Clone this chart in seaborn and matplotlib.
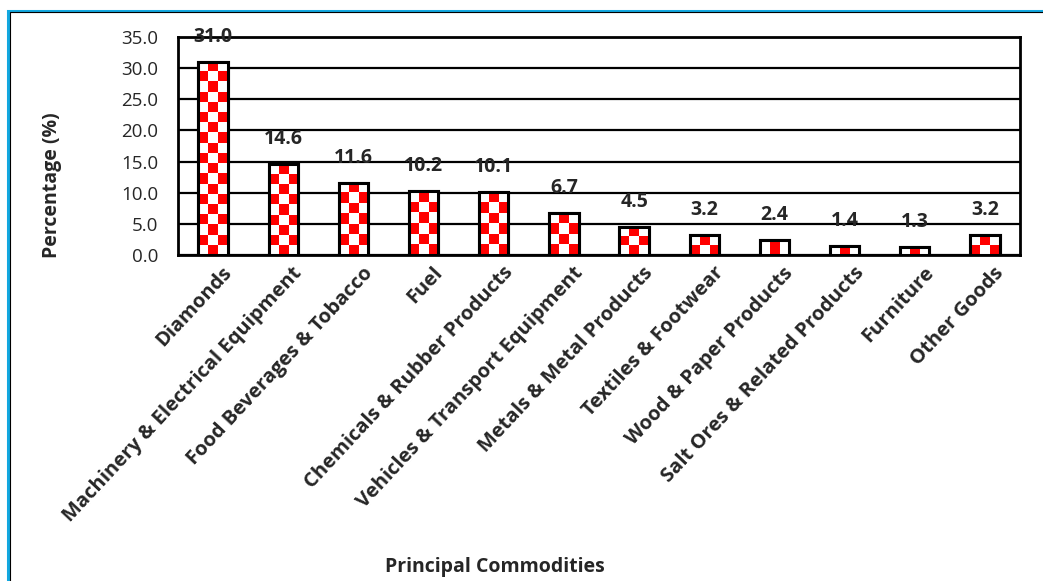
import numpy as np
import pandas as pd
import matplotlib
matplotlib.use('Agg')
import matplotlib.pyplot as plt
import seaborn as sns
from matplotlib.colors import ListedColormap
from matplotlib.patches import Rectangle
from matplotlib.transforms import ScaledTranslation

# Chart data
commodities = ['Diamonds', 'Machinery & Electrical Equipment', 'Food Beverages & Tobacco',
               'Fuel', 'Chemicals & Rubber Products', 'Vehicles & Transport Equipment',
               'Metals & Metal Products', 'Textiles & Footwear', 'Wood & Paper Products',
               'Salt Ores & Related Products', 'Furniture', 'Other Goods']
percentages = [31.0, 14.6, 11.6, 10.2, 10.1, 6.7, 4.5, 3.2, 2.4, 1.4, 1.3, 3.2]
y_ticks = [0, 5, 10, 15, 20, 25, 30, 35]

df = pd.DataFrame({'Commodity': commodities, 'Percentage': percentages})

sns.set_style('white')
plt.rcParams['font.family'] = ['Open Sans', 'DejaVu Sans']

W, H = 1043, 581
fig = plt.figure(figsize=(W / 100, H / 100), dpi=100)
ax = fig.add_axes([178 / W, 1 - 255 / H, (1020 - 178) / W, (255 - 37) / H])

sns.barplot(data=df, x='Commodity', y='Percentage', color='white', edgecolor='black',
            linewidth=2.2, width=0.42, ax=ax, zorder=3)

ax.set_ylim(0, 35)
ax.set_xlim(-0.5, len(commodities) - 0.5)
ax.set_yticks(y_ticks)
ax.set_yticklabels([f'{t:.1f}' for t in y_ticks], fontsize=13.5)
ax.yaxis.grid(True, color='black', linewidth=1.6, zorder=0)
ax.set_axisbelow(True)
for s in ax.spines.values():
    s.set_color('black')
    s.set_linewidth(2)
    s.set_visible(True)
ax.tick_params(axis='y', length=0, pad=14)

# tick marks between categories
ax.set_xticks(np.arange(-0.5, len(commodities)), minor=True)
ax.tick_params(axis='x', which='minor', length=7, width=2, color='black', direction='out')
ax.tick_params(axis='x', which='major', length=0, pad=2)
ax.set_xticklabels(commodities, rotation=47, ha='right', va='center', rotation_mode='anchor',
                   fontsize=14.5, fontweight='bold')
offset = ScaledTranslation(16 / 100, -12 / 100, fig.dpi_scale_trans)
for lab in ax.get_xticklabels():
    lab.set_transform(lab.get_transform() + offset)
ax.set_xlabel('')
ax.set_ylabel('')

# checkerboard fill clipped to each bar
px_per_unit = (255 - 37) / 35
cell_px = 10
cmap = ListedColormap(['white', '#ff0000'])
for bar in list(ax.patches):
    x0, w, h = bar.get_x(), bar.get_width(), bar.get_height()
    nrows = max(1, int(round(h * px_per_unit / cell_px)))
    ncols = 3
    grid = (np.add.outer(np.arange(nrows), np.arange(ncols)) % 2).astype(float)
    im = ax.imshow(grid, cmap=cmap, vmin=0, vmax=1, extent=[x0, x0 + w, 0, h],
                   origin='upper', aspect='auto', interpolation='nearest', zorder=3.5)
    im.set_clip_path(bar)
    ov = Rectangle((x0, 0), w, h, facecolor='none', edgecolor='black', linewidth=2.2, zorder=4)
    ax.add_patch(ov)
ax.set_xlim(-0.5, len(commodities) - 0.5)
ax.set_ylim(0, 35)

# value labels
for i, v in enumerate(percentages):
    ax.annotate(f'{v:.1f}', (i, v), xytext=(0, 25), textcoords='offset pixels',
                ha='center', va='center', fontsize=14, fontweight='bold', zorder=5,
                annotation_clip=False)

fig.text(52 / W, 1 - 185 / H, 'Percentage (%)', rotation=90, ha='center', va='center',
         fontsize=14, fontweight='bold')
fig.text(495 / W, 1 - 567 / H, 'Principal Commodities', ha='center', va='center',
         fontsize=14, fontweight='bold')

# outer frame
fig.patches.append(Rectangle((7.5 / W, -0.1), 1.2, 1 - 10.5 / H + 0.1, transform=fig.transFigure,
                             facecolor='none', edgecolor='#12a8e0', linewidth=2.2))
fig.patches.append(Rectangle((9.5 / W, -0.1), 1.2, 1 - 12.5 / H + 0.1, transform=fig.transFigure,
                             facecolor='none', edgecolor='black', linewidth=0.8))

fig.savefig('out.png', dpi=100)
